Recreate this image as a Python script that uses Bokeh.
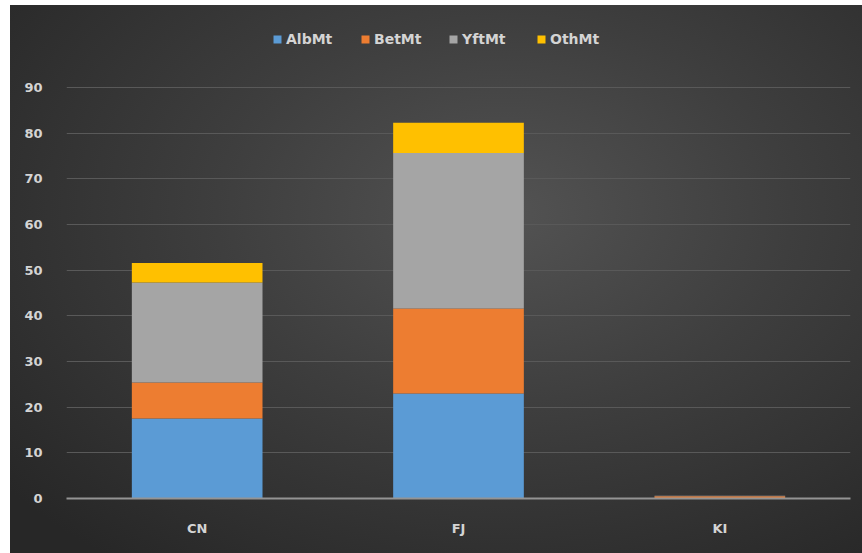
from bokeh.plotting import figure
from bokeh.models import ColumnDataSource, Legend, LegendItem, FactorRange
from bokeh.embed import file_html
from bokeh.resources import INLINE

# Catch per fleet (Mt), stacked by species
cats = ["CN", "FJ", "KI"]
alb = [17.5, 23.0, 0.1]
bet = [7.9, 18.6, 0.4]
yft = [21.9, 34.1, 0.1]
oth = [4.3, 6.6, 0.0]

series = ["AlbMt", "BetMt", "YftMt", "OthMt"]
colors = ["#5b9bd5", "#ed7d31", "#a5a5a5", "#ffc000"]
y_ticks = list(range(0, 100, 10))

source = ColumnDataSource(dict(cats=cats, AlbMt=alb, BetMt=bet, YftMt=yft, OthMt=oth))

# the frame reaches up into the header strip so the legend can sit there
p = figure(
    x_range=FactorRange(*cats, range_padding=0),
    y_range=(0, 103.6),
    width=852, height=548,
    output_backend="svg", toolbar_location=None,
    min_border_left=56, min_border_right=12,
    min_border_top=20, min_border_bottom=55,
)
p.styles = {
    "margin-left": "10px",
    "margin-top": "5px",
    "background-image": "radial-gradient(ellipse 75% 80% at 58% 38%, #535353 0%, #3e3e3e 45%, #272727 100%)",
}
p.background_fill_color = None
p.border_fill_color = None
p.outline_line_color = None

renderers = p.vbar_stack(series, x="cats", width=0.5, source=source,
                         color=colors, line_color=None)

# axes and grid
p.xgrid.grid_line_color = None
p.ygrid.grid_line_color = "#595959"
p.ygrid.grid_line_width = 1
p.yaxis.ticker = y_ticks
p.yaxis.axis_line_color = None
p.yaxis.major_tick_line_color = None
p.yaxis.minor_tick_line_color = None
p.yaxis.major_label_standoff = 18
p.xaxis.axis_line_color = "#949494"
p.xaxis.axis_line_width = 2
p.xaxis.major_tick_line_color = None
p.xaxis.minor_tick_line_color = None
p.xaxis.major_label_standoff = 16
for ax in (p.xaxis[0], p.yaxis[0]):
    ax.major_label_text_color = "#d4d4d4"
    ax.major_label_text_font = "DejaVu Sans"
    ax.major_label_text_font_style = "bold"
    ax.major_label_text_font_size = "13px"

legend = Legend(
    items=[LegendItem(label=s, renderers=[r]) for s, r in zip(series, renderers)],
    orientation="horizontal",
    location=(206, 451),
    background_fill_alpha=0, border_line_color=None,
    padding=0, margin=0, spacing=22,
    glyph_width=10, glyph_height=10, label_standoff=4,
    label_height=14, label_width=52,
    label_text_color="#d4d4d4", label_text_font="DejaVu Sans",
    label_text_font_style="bold", label_text_font_size="14px",
)
p.add_layout(legend, "center")

open("out.html", "w").write(file_html(p, INLINE))
